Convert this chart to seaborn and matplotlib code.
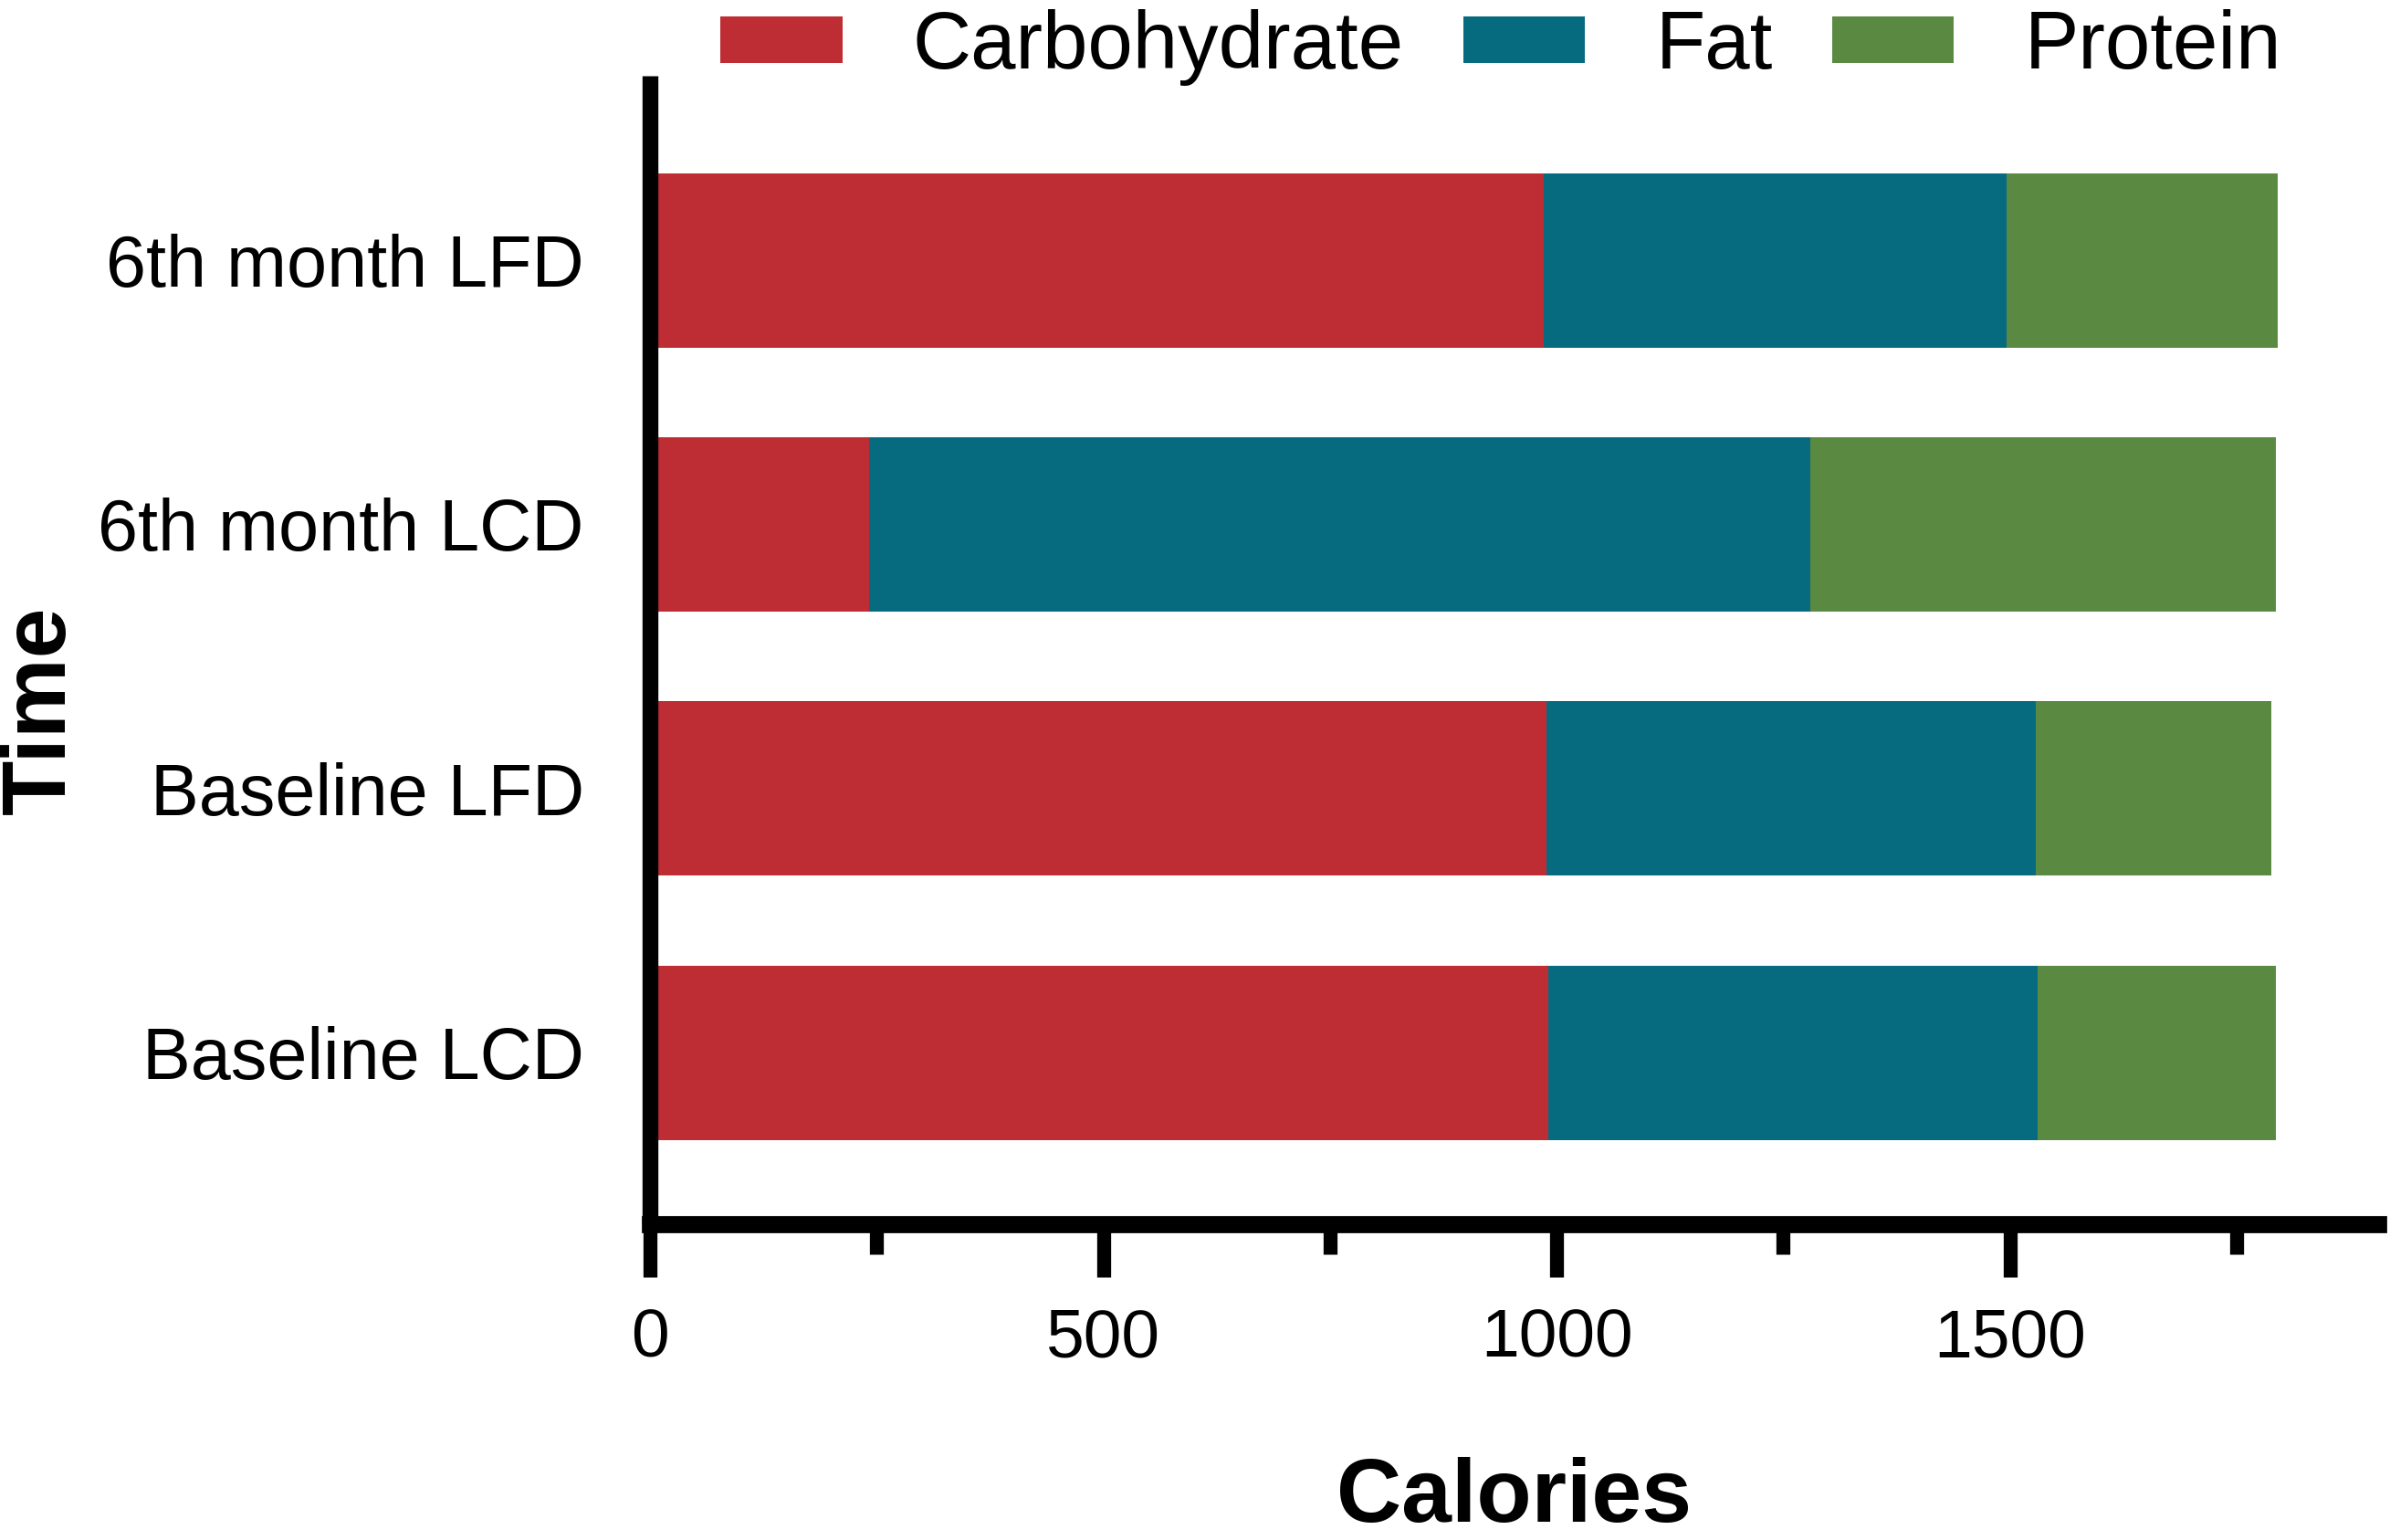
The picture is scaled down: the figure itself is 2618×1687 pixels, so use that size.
import matplotlib
matplotlib.use("Agg")
import matplotlib.pyplot as plt
from matplotlib.patches import Patch
import pandas as pd
import seaborn as sns

groups = ['6th month LFD', '6th month LCD', 'Baseline LFD', 'Baseline LCD']
carbohydrate = [986, 242, 989, 991]
fat = [510, 1038, 539, 539]
protein = [299, 513, 260, 263]

nutrients = ['Carbohydrate', 'Fat', 'Protein']
colors = ['#BD2D33', '#076B80', '#5A8942']

df = pd.DataFrame({'Time': groups,
                   'Carbohydrate': carbohydrate,
                   'Fat': fat,
                   'Protein': protein})
# running totals for the stacked look
df['cum_carb'] = df['Carbohydrate']
df['cum_fat'] = df['cum_carb'] + df['Fat']
df['cum_protein'] = df['cum_fat'] + df['Protein']

sns.set_style('ticks')
plt.rcParams['font.family'] = ['Liberation Sans', 'DejaVu Sans']
plt.rcParams.update({'text.color': 'black', 'axes.labelcolor': 'black',
                     'axes.edgecolor': 'black', 'xtick.color': 'black',
                     'ytick.color': 'black'})

fig = plt.figure(figsize=(26.18, 16.87), dpi=100)
ax = fig.add_axes([0.272, 0.205, 0.723, 0.746])

# draw longest first so the shorter pieces sit on top
for col, color in zip(['cum_protein', 'cum_fat', 'cum_carb'], colors[::-1]):
    sns.barplot(data=df, x=col, y='Time', order=groups, orient='h',
                color=color, saturation=1, width=0.66, linewidth=0, ax=ax)

ax.set_xlim(0, 1906)
ax.set_ylim(3.65, -0.70)
ax.set_xticks([0, 500, 1000, 1500])
ax.set_xticks([250, 750, 1250, 1750], minor=True)

for s in ['top', 'right']:
    ax.spines[s].set_visible(False)
ax.spines['left'].set_linewidth(12.5)
ax.spines['bottom'].set_linewidth(13.5)
ax.spines['left'].set_capstyle('butt')

ax.tick_params(axis='x', which='major', direction='out', length=42, width=11,
               labelsize=54, pad=24)
ax.tick_params(axis='x', which='minor', direction='out', length=24, width=11)
ax.tick_params(axis='y', length=0, labelsize=57, pad=52)

ax.set_xlabel('Calories', fontsize=71, fontweight='bold', labelpad=68)
ax.set_ylabel('Time', fontsize=71, fontweight='bold')
ax.yaxis.set_label_coords(-0.328, 0.4475)

handles = [Patch(facecolor=c, edgecolor='none') for c in colors]
fig.legend(handles, nutrients, loc='center', bbox_to_anchor=(0.628, 0.969),
           ncol=3, frameon=False, fontsize=64, handlelength=1.5,
           handleheight=0.5, handletextpad=0.87, columnspacing=0.73)

fig.savefig('out.png', dpi=100)
